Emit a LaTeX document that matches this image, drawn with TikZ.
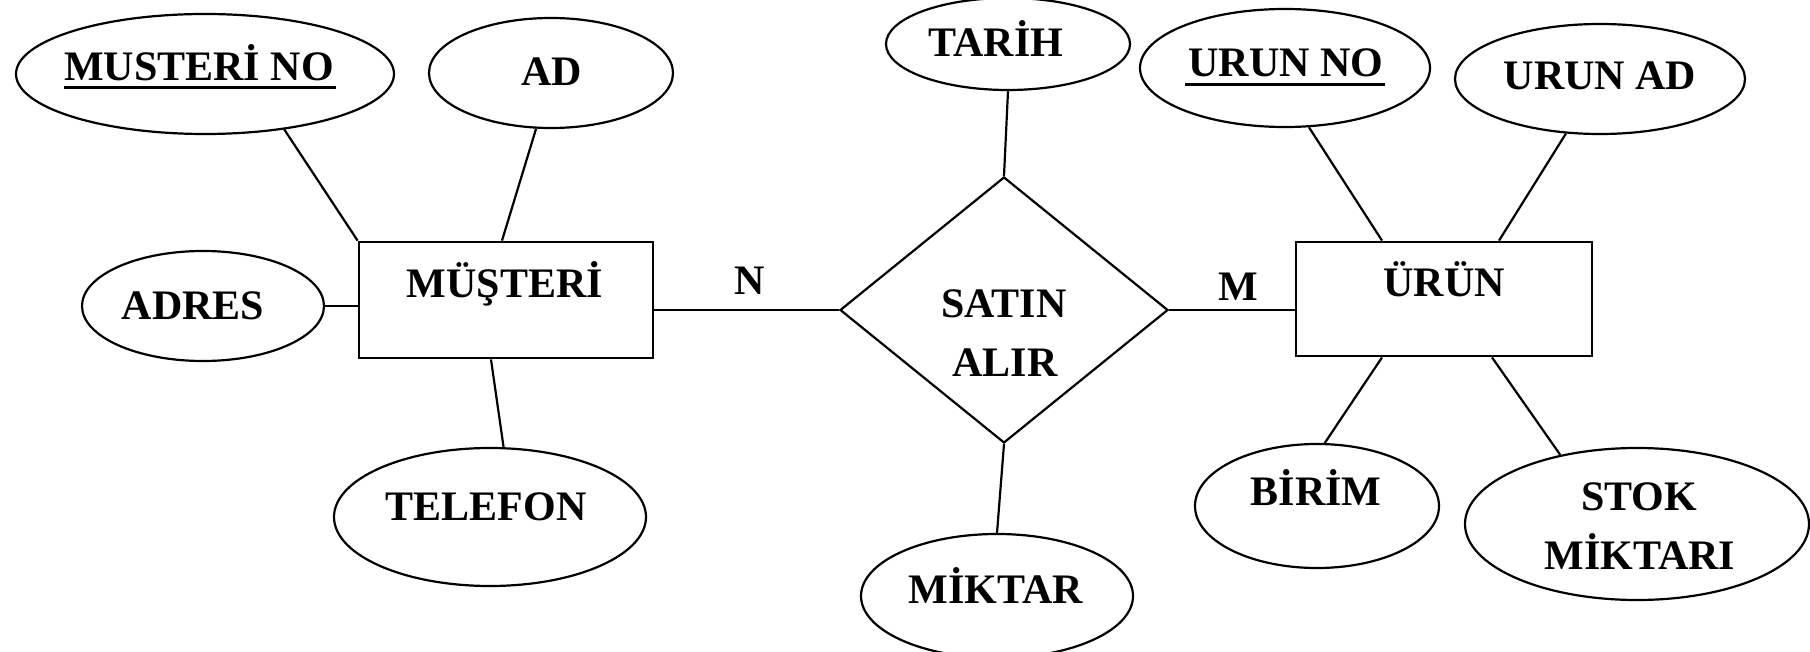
\documentclass[tikz,border=0pt]{standalone}
\usepackage{fontspec}
\setmainfont{Liberation Serif}
\usetikzlibrary{shapes.geometric,calc}
\begin{document}
\begin{tikzpicture}[x=0.5pt,y=-0.5pt,
  ln/.style={line width=1.1pt},
  attr/.style={ellipse,draw,line width=1.1pt,inner sep=0pt},
  ent/.style={rectangle,draw,line width=1.4pt,inner sep=0pt},
  rel/.style={diamond,draw,line width=1.1pt,inner sep=0pt},
  txt/.style={font=\fontsize{21}{25}\selectfont\bfseries,inner sep=0pt,anchor=base},
  uline/.style={line width=1.5pt}]
\useasboundingbox (0,0) rectangle (1810,652);
% entities and relationship
\node[ent,minimum width=147pt,minimum height=58pt] (mus) at (506,300) {};
\node[ent,minimum width=148pt,minimum height=57pt] (uru) at (1444,299) {};
\node[rel,minimum width=164pt,minimum height=133pt] (dia) at (1004,310) {};
% attributes
\node[attr,minimum width=189pt,minimum height=60pt] (mno) at (205,74) {};
\node[attr,minimum width=122pt,minimum height=55pt] (ad) at (551,73) {};
\node[attr,minimum width=121pt,minimum height=55pt] (adr) at (203,306) {};
\node[attr,minimum width=156pt,minimum height=69pt] (tel) at (490,517) {};
\node[attr,minimum width=122pt,minimum height=46pt] (tar) at (1008,44) {};
\node[attr,minimum width=136pt,minimum height=62pt] (mik) at (997,596) {};
\node[attr,minimum width=145pt,minimum height=59pt] (uno) at (1285,68) {};
\node[attr,minimum width=145pt,minimum height=55pt] (uad) at (1600,79) {};
\node[attr,minimum width=122pt,minimum height=62pt] (bir) at (1317,506) {};
\node[attr,minimum width=172pt,minimum height=76pt] (stk) at (1637,524) {};
% texts
\node[txt] (t-mno) at (199,81) {MUSTERİ NO};
\draw[uline] ($(t-mno.base west)+(0,7)$) -- ($(t-mno.base east)+(2,7)$);
\node[txt] (t-ad) at (552,86) {AD};
\node[txt] (t-adr) at (193,320) {ADRES};
\node[txt] (t-mus) at (505,298) {MÜŞTERİ};
\node[txt] (t-tel) at (486,520) {TELEFON};
\node[txt] (t-tar) at (996,57) {TARİH};
\node[txt] (t-sat) at (1004,318) {SATIN};
\node[txt] (t-alr) at (1005,376) {ALIR};
\node[txt] (t-n) at (750,294) {N};
\node[txt] (t-m) at (1238,300) {M};
\node[txt] (t-uru) at (1444,297) {ÜRÜN};
\node[txt] (t-uno) at (1286,77) {URUN NO};
\draw[uline] ($(t-uno.base west)+(-3,8)$) -- ($(t-uno.base east)+(1,8)$);
\node[txt] (t-uad) at (1600,90) {URUN AD};
\node[txt] (t-bir) at (1316,505) {BİRİM};
\node[txt] (t-stk) at (1639,510) {STOK};
\node[txt] (t-mkt) at (1640,569) {MİKTARI};
\node[txt] (t-mik) at (996,603) {MİKTAR};
% connectors
\draw[ln] (mno.-35) -- (mus.north west);
\draw[ln] (ad.-105) -- ($(mus.north)+(-4,0)$);
\draw[ln] (adr.east) -- (mus.west |- adr.east);
\draw[ln] ($(mus.south)+(-15,0)$) -- (tel.79);
\draw[ln] (mus.east |- dia.west) -- (dia.west);
\draw[ln] (dia.east) -- (uru.west |- dia.east);
\draw[ln] (tar.south) -- (dia.north);
\draw[ln] (dia.south) -- (mik.north);
\draw[ln] (uno.-68) -- ($(uru.north)+(-62,0)$);
\draw[ln] (uad.-122) -- ($(uru.north)+(55,0)$);
\draw[ln] ($(uru.south)+(-62,0)$) -- (bir.83);
\draw[ln] ($(uru.south)+(48,0)$) -- (stk.138);
\end{tikzpicture}
\end{document}
